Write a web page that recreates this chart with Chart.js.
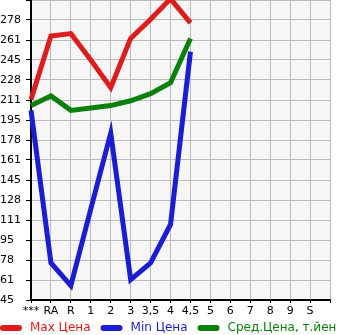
<!DOCTYPE html>
<html>
<head>
<meta charset="UTF-8">
<title>chart</title>
<script src="https://cdn.jsdelivr.net/npm/chart.js@4/dist/chart.umd.min.js"></script>
<style>
  html, body { margin: 0; padding: 0; background: #fff; }
  #box { width: 345px; height: 335px; }
</style>
</head>
<body>
<div id="box"><canvas id="mychart"></canvas></div>
<script>
const xLabels = ['***', 'RA', 'R', '1', '2', '3', '3,5', '4', '4,5', '5', '6', '7', '8', '9', 'S', ''];
const yTickLabels = ['45', '61', '78', '95', '111', '128', '145', '161', '178', '195', '211', '228', '245', '261', '278', ''];
const Y_MIN = 45;
const Y_MAX = 295;

const MAX_LABEL = 'Max Цена';
const MIN_LABEL = 'Min Цена';
const AVR_LABEL = 'Сред.Цена, т.йен';
let maxList = [212, 265, 267, 245, 222, 263, 279, 296, 276];
let minList = [203, 76, 57, 121, 184, 62, 76, 108, 252];
let avrList = [207, 215, 203, 205, 207, 211, 217, 226, 263];

const RED = '#dd1c1c';
const BLUE = '#1c1cd2';
const GREEN = '#0a800a';

const tickFont = { family: 'DejaVu Sans', size: 11 };
const legendFont = '12px "DejaVu Sans"';

const plotBg = {
  id: 'plotBg',
  beforeDraw(chart) {
    const a = chart.chartArea;
    const c = chart.ctx;
    c.save();
    c.fillStyle = '#f6f6f6';
    c.fillRect(a.left, a.top, a.right - a.left, a.bottom - a.top);
    c.restore();
  }
};

// legend drawn by hand: swatch + coloured text, left aligned
const bottomLegend = {
  id: 'bottomLegend',
  afterDraw(chart) {
    const c = chart.ctx;
    const y = 328;
    let x = 0;
    c.save();
    c.font = legendFont;
    c.textBaseline = 'middle';
    chart.data.datasets.forEach((d) => {
      c.strokeStyle = d.borderColor;
      c.lineWidth = 6;
      c.lineCap = 'round';
      c.beginPath();
      c.moveTo(x + 3, y);
      c.lineTo(x + 19, y);
      c.stroke();
      c.fillStyle = d.borderColor;
      c.fillText(d.label, x + 30, y);
      x += 30 + c.measureText(d.label).width + 10;
    });
    c.restore();
  }
};

function series(label, data, color) {
  return {
    label: label,
    data: data,
    borderColor: color,
    backgroundColor: color,
    borderWidth: 5,
    pointRadius: 0,
    tension: 0,
    clip: 3,
  };
}

let ctx = document.getElementById('mychart');
new Chart(ctx, {
  type: 'line',
  data: {
    labels: xLabels,
    datasets: [
      series(MAX_LABEL, maxList, RED),
      series(MIN_LABEL, minList, BLUE),
      series(AVR_LABEL, avrList, GREEN),
    ],
  },
  plugins: [plotBg, bottomLegend],
  options: {
    responsive: true,
    maintainAspectRatio: false,
    animation: false,
    layout: { padding: { top: 0, right: 15, left: 0, bottom: 17 } },
    plugins: {
      tooltip: { enabled: false },
      legend: { display: false },
    },
    scales: {
      x: {
        offset: false,
        grid: { color: '#bbbbbb', lineWidth: 1, tickColor: '#000', tickLength: 3 },
        border: { color: '#000', width: 2 },
        ticks: { font: tickFont, color: '#000', maxRotation: 0, autoSkip: false, padding: 2 },
        afterFit(scale) { scale.height = 18; },
      },
      y: {
        min: Y_MIN,
        max: Y_MAX,
        grid: { color: '#bbbbbb', lineWidth: 1, tickColor: '#000', tickLength: 5 },
        border: { color: '#000', width: 2 },
        afterBuildTicks(scale) {
          const n = yTickLabels.length - 1;
          scale.ticks = yTickLabels.map((t, i) => ({ value: Y_MIN + i * (Y_MAX - Y_MIN) / n }));
        },
        ticks: {
          font: tickFont,
          color: '#000',
          crossAlign: 'far',
          padding: 2,
          callback(value, index) { return yTickLabels[index]; },
        },
        afterFit(scale) {
          scale.width = 31;
          scale.paddingTop = 0;
          scale.paddingBottom = 0;
        },
      },
    },
  },
});
</script>
</body>
</html>
